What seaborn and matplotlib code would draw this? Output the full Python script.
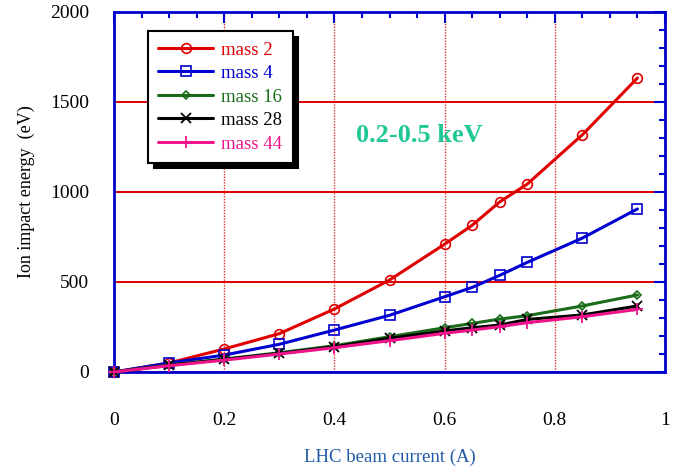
import matplotlib
matplotlib.use("Agg")
import matplotlib.pyplot as plt
from matplotlib.ticker import MultipleLocator, FuncFormatter
import seaborn as sns
import pandas as pd

# Ion impact energy versus LHC beam current for several ion masses
current = [0, 0.1, 0.2, 0.3, 0.4, 0.5, 0.6, 0.65, 0.7, 0.75, 0.85, 0.95]
mass2 = [0, 50, 128, 213, 350, 511, 710, 815, 945, 1044, 1318, 1633]
mass4 = [0, 50, 94, 154, 233, 315, 418, 470, 537, 609, 744, 906]
mass16 = [0, 39, 72, 107, 146, 196, 246, 270, 294, 313, 367, 428]
mass28 = [0, 37, 70, 103, 140, 187, 228, 246, 261, 292, 317, 367]
mass44 = [0, 35, 66, 100, 135, 174, 215, 233, 252, 274, 307, 348]

labels = ["mass 2", "mass 4", "mass 16", "mass 28", "mass 44"]

sns.set_style("white")
plt.rcParams["font.family"] = ["Liberation Serif", "DejaVu Serif"]

styles = {
    "mass 2": dict(color="#e00000", marker="o", ms=7, mew=1.2, mfc="none"),
    "mass 4": dict(color="#0000d0", marker="s", ms=7.5, mew=1.2, mfc="none"),
    "mass 16": dict(color="#1a6b1a", marker="D", ms=4.5, mew=1.2, mfc="none"),
    "mass 28": dict(color="#000000", marker="x", ms=7, mew=1.3),
    "mass 44": dict(color="#f0148c", marker="+", ms=9, mew=1.3),
}

frames = []
for name, vals in zip(labels, [mass2, mass4, mass16, mass28, mass44]):
    frames.append(pd.DataFrame({"current": current, "energy": vals, "series": name}))
df = pd.concat(frames, ignore_index=True)

fig, ax = plt.subplots(figsize=(6.73, 4.67), dpi=100)
fig.subplots_adjust(left=114 / 673, right=665 / 673, top=1 - 12 / 467, bottom=1 - 372 / 467)

for name in labels:
    st = styles[name]
    sub = df[df["series"] == name]
    sns.lineplot(data=sub, x="current", y="energy", ax=ax, color=st["color"],
                 lw=2.2, marker=st["marker"], markersize=st["ms"],
                 markeredgewidth=st["mew"], markeredgecolor=st["color"],
                 markerfacecolor=st.get("mfc", st["color"]),
                 label=name, clip_on=False, zorder=4)

ax.set_xlim(0, 1)
ax.set_ylim(0, 2000)
ax.xaxis.set_major_locator(MultipleLocator(0.2))
ax.xaxis.set_minor_locator(MultipleLocator(0.05))
ax.yaxis.set_major_locator(MultipleLocator(500))
ax.yaxis.set_minor_locator(MultipleLocator(100))
ax.xaxis.set_major_formatter(FuncFormatter(lambda v, p: f"{v:g}"))
ax.yaxis.set_major_formatter(FuncFormatter(lambda v, p: f"{v:g}"))

axis_blue = "#0000cc"
ax.tick_params(which="both", direction="in", top=True, right=True, color=axis_blue, width=1.5)
ax.tick_params(which="major", length=8)
ax.tick_params(which="minor", length=4.5)
ax.tick_params(axis="x", which="major", pad=29, labelsize=14, labelcolor="black")
ax.tick_params(axis="y", which="major", pad=18, labelsize=14, labelcolor="black")
for sp in ax.spines.values():
    sp.set_color(axis_blue)
    sp.set_linewidth(2)
    sp.set_visible(True)

ax.grid(False)
ax.yaxis.grid(True, which="major", color="#e00000", lw=1.4, ls="-")
ax.xaxis.grid(True, which="major", color="#e03030", lw=1.0, ls=(0, (1, 1)))
ax.set_axisbelow(True)

ax.set_xlabel("LHC beam current (A)", fontsize=13.5, color="#1f5aa6")
ax.set_ylabel("Ion impact energy  (eV)", fontsize=13, color="black")
ax.xaxis.set_label_coords(0.5, -0.212)
ax.yaxis.set_label_coords(-0.143, 0.5)

ax.text(0.555, 0.658, "0.2-0.5 keV", transform=ax.transAxes, ha="center", va="center",
        fontsize=19, fontweight="bold", color="#20c896")

leg = ax.legend(loc="upper left", bbox_to_anchor=(0.062, 0.947), borderaxespad=0,
                fontsize=13.5, labelcolor="linecolor", frameon=True, fancybox=False,
                framealpha=1, edgecolor="black", handlelength=2.9, handletextpad=0.45,
                labelspacing=0.34, borderpad=0.55,
                shadow={"ox": 4, "oy": -4, "color": "black", "alpha": 1})
leg.get_frame().set_linewidth(1.5)
leg.set_zorder(10)

fig.savefig("out.png", dpi=100)
